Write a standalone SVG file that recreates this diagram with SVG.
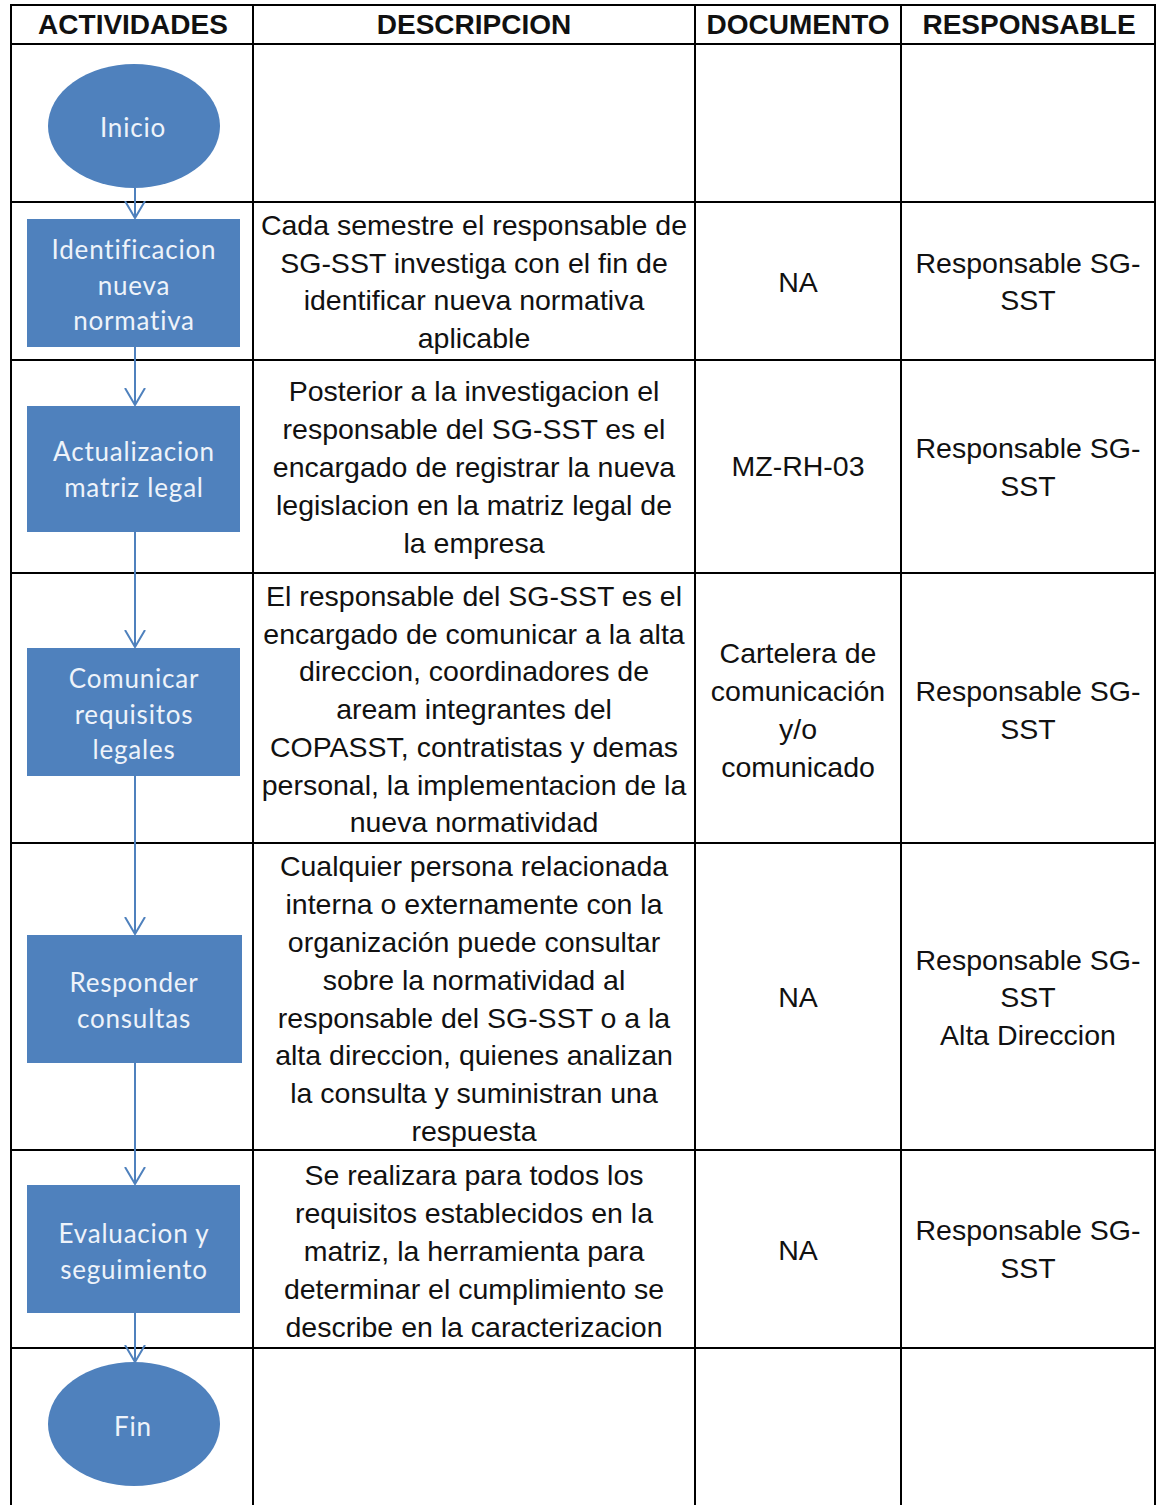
<svg xmlns="http://www.w3.org/2000/svg" width="1157" height="1505" viewBox="0 0 1157 1505">
  <style>
    .grid { stroke: #000; stroke-width: 2; fill: none; }
    .hdr { font-family: "Liberation Sans", Arial, sans-serif; font-size: 28px; font-weight: bold; fill: #111; text-anchor: middle; }
    .txt { font-family: "Liberation Sans", Arial, sans-serif; font-size: 28.5px; fill: #111; text-anchor: middle; }
    .shape { fill: #4F81BD; }
    .ntxt { font-family: Lato, "Open Sans", sans-serif; font-size: 26px; letter-spacing: 0.8px; fill: #eef3fa; text-anchor: middle; }
    .conn { stroke: #4F81BD; stroke-width: 2; fill: none; }
  </style>
  <defs>
    <marker id="arr" markerUnits="userSpaceOnUse" markerWidth="22" markerHeight="24" refX="17" refY="11" orient="auto" viewBox="0 0 22 24">
      <path d="M0,1 L17,11 L0,21" fill="none" stroke="#4F81BD" stroke-width="2"/>
    </marker>
  </defs>
  <rect width="1157" height="1505" fill="#fff"/>

  <g id="table">
    <line class="grid" x1="11" y1="5" x2="1155" y2="5"/>
    <line class="grid" x1="11" y1="44" x2="1155" y2="44"/>
    <line class="grid" x1="11" y1="202" x2="1155" y2="202"/>
    <line class="grid" x1="11" y1="360" x2="1155" y2="360"/>
    <line class="grid" x1="11" y1="573" x2="1155" y2="573"/>
    <line class="grid" x1="11" y1="843" x2="1155" y2="843"/>
    <line class="grid" x1="11" y1="1150" x2="1155" y2="1150"/>
    <line class="grid" x1="11" y1="1348" x2="1155" y2="1348"/>
    <line class="grid" x1="11" y1="4" x2="11" y2="1505"/>
    <line class="grid" x1="253" y1="4" x2="253" y2="1505"/>
    <line class="grid" x1="695" y1="4" x2="695" y2="1505"/>
    <line class="grid" x1="901" y1="4" x2="901" y2="1505"/>
    <line class="grid" x1="1155" y1="4" x2="1155" y2="1505"/>
  </g>

  <g id="headers">
    <text class="hdr" x="133" y="34">ACTIVIDADES</text>
    <text class="hdr" x="474" y="34">DESCRIPCION</text>
    <text class="hdr" x="798" y="34">DOCUMENTO</text>
    <text class="hdr" x="1029" y="34">RESPONSABLE</text>
  </g>

  <g id="connectors">
    <line class="conn" x1="135" y1="188" x2="135" y2="218" marker-end="url(#arr)"/>
    <line class="conn" x1="135" y1="347" x2="135" y2="405" marker-end="url(#arr)"/>
    <line class="conn" x1="135" y1="532" x2="135" y2="647" marker-end="url(#arr)"/>
    <line class="conn" x1="135" y1="776" x2="135" y2="934" marker-end="url(#arr)"/>
    <line class="conn" x1="135" y1="1063" x2="135" y2="1184" marker-end="url(#arr)"/>
    <line class="conn" x1="135" y1="1313" x2="135" y2="1362" marker-end="url(#arr)"/>
  </g>

  <g id="n-inicio">
    <ellipse class="shape" cx="134" cy="126" rx="86" ry="62"/>
    <text class="ntxt" x="133" y="137">Inicio</text>
  </g>
  <g id="n-identificacion">
    <rect class="shape" x="27" y="219" width="213" height="128"/>
    <text class="ntxt" x="134" y="259">Identificacion</text>
    <text class="ntxt" x="134" y="295">nueva</text>
    <text class="ntxt" x="134" y="330">normativa</text>
  </g>
  <g id="n-actualizacion">
    <rect class="shape" x="27" y="406" width="213" height="126"/>
    <text class="ntxt" x="134" y="461">Actualizacion</text>
    <text class="ntxt" x="134" y="497">matriz legal</text>
  </g>
  <g id="n-comunicar">
    <rect class="shape" x="27" y="648" width="213" height="128"/>
    <text class="ntxt" x="134" y="688">Comunicar</text>
    <text class="ntxt" x="134" y="724">requisitos</text>
    <text class="ntxt" x="134" y="759">legales</text>
  </g>
  <g id="n-responder">
    <rect class="shape" x="27" y="935" width="215" height="128"/>
    <text class="ntxt" x="134" y="992">Responder</text>
    <text class="ntxt" x="134" y="1028">consultas</text>
  </g>
  <g id="n-evaluacion">
    <rect class="shape" x="27" y="1185" width="213" height="128"/>
    <text class="ntxt" x="134" y="1243">Evaluacion y</text>
    <text class="ntxt" x="134" y="1279">seguimiento</text>
  </g>
  <g id="n-fin">
    <ellipse class="shape" cx="134" cy="1424" rx="86" ry="62"/>
    <text class="ntxt" x="133" y="1436">Fin</text>
  </g>

  <g id="descripcion">
    <text class="txt" x="474" y="235">Cada semestre el responsable de</text>
    <text class="txt" x="474" y="273">SG-SST investiga con el fin de</text>
    <text class="txt" x="474" y="310">identificar nueva normativa</text>
    <text class="txt" x="474" y="348">aplicable</text>

    <text class="txt" x="474" y="401">Posterior a la investigacion el</text>
    <text class="txt" x="474" y="439">responsable del SG-SST es el</text>
    <text class="txt" x="474" y="477">encargado de registrar la nueva</text>
    <text class="txt" x="474" y="515">legislacion en la matriz legal de</text>
    <text class="txt" x="474" y="553">la empresa</text>

    <text class="txt" x="474" y="606">El responsable del SG-SST es el</text>
    <text class="txt" x="474" y="644">encargado de comunicar a la alta</text>
    <text class="txt" x="474" y="681">direccion, coordinadores de</text>
    <text class="txt" x="474" y="719">aream integrantes del</text>
    <text class="txt" x="474" y="757">COPASST, contratistas y demas</text>
    <text class="txt" x="474" y="795">personal, la implementacion de la</text>
    <text class="txt" x="474" y="832">nueva normatividad</text>

    <text class="txt" x="474" y="876">Cualquier persona relacionada</text>
    <text class="txt" x="474" y="914">interna o externamente con la</text>
    <text class="txt" x="474" y="952">organización puede consultar</text>
    <text class="txt" x="474" y="990">sobre la normatividad al</text>
    <text class="txt" x="474" y="1028">responsable del SG-SST o a la</text>
    <text class="txt" x="474" y="1065">alta direccion, quienes analizan</text>
    <text class="txt" x="474" y="1103">la consulta y suministran una</text>
    <text class="txt" x="474" y="1141">respuesta</text>

    <text class="txt" x="474" y="1185">Se realizara para todos los</text>
    <text class="txt" x="474" y="1223">requisitos establecidos en la</text>
    <text class="txt" x="474" y="1261">matriz, la herramienta para</text>
    <text class="txt" x="474" y="1299">determinar el cumplimiento se</text>
    <text class="txt" x="474" y="1337">describe en la caracterizacion</text>
  </g>

  <g id="documento">
    <text class="txt" x="798" y="292">NA</text>
    <text class="txt" x="798" y="476">MZ-RH-03</text>
    <text class="txt" x="798" y="663">Cartelera de</text>
    <text class="txt" x="798" y="701">comunicación</text>
    <text class="txt" x="798" y="739">y/o</text>
    <text class="txt" x="798" y="777">comunicado</text>
    <text class="txt" x="798" y="1007">NA</text>
    <text class="txt" x="798" y="1260">NA</text>
  </g>

  <g id="responsable">
    <text class="txt" x="1028" y="273">Responsable SG-</text>
    <text class="txt" x="1028" y="310">SST</text>
    <text class="txt" x="1028" y="458">Responsable SG-</text>
    <text class="txt" x="1028" y="496">SST</text>
    <text class="txt" x="1028" y="701">Responsable SG-</text>
    <text class="txt" x="1028" y="739">SST</text>
    <text class="txt" x="1028" y="970">Responsable SG-</text>
    <text class="txt" x="1028" y="1007">SST</text>
    <text class="txt" x="1028" y="1045">Alta Direccion</text>
    <text class="txt" x="1028" y="1240">Responsable SG-</text>
    <text class="txt" x="1028" y="1278">SST</text>
  </g>
</svg>
